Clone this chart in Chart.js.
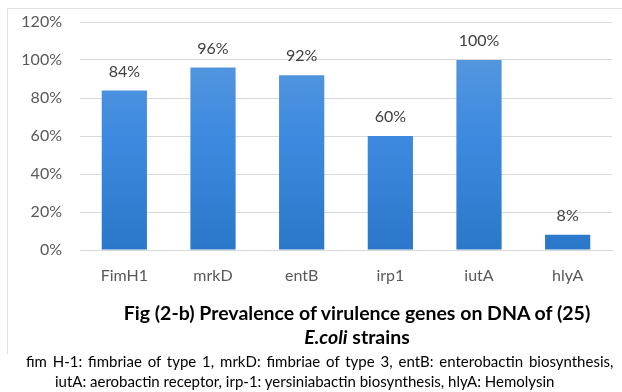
<!DOCTYPE html>
<html>
<head>
<meta charset="utf-8">
<script src="https://cdn.jsdelivr.net/npm/chart.js@4"></script>
<style>
  body { margin: 0; background: #fff; font-family: Lato, sans-serif; }
  #wrap { position: relative; width: 622px; height: 392px; overflow: hidden; }
  #box { position: absolute; left: 7px; top: 8px; width: 700px; height: 345px;
         border-top: 1px solid #e2e2e2; border-left: 1px solid #e2e2e2; }
  canvas { position: absolute; left: 0; top: 0; }
  .t { position: absolute; white-space: nowrap; color: #000; }
  .title { left: 0; width: 714px; text-align: center; font-weight: bold; font-size: 19.5px; line-height: 23px; }
  .note { font-size: 15px; line-height: 18px; }
</style>
</head>
<body>
<div id="wrap">
  <div id="box"></div>
  <canvas id="genes" width="622" height="392"></canvas>
  <div class="t title" style="top:301px">Fig (2-b) Prevalence of virulence genes on DNA of (25)</div>
  <div class="t title" style="top:325px"><i>E.coli</i> strains</div>
  <div class="t note" style="left:26px; top:352px; word-spacing:2px">fim H-1: fimbriae of type 1, mrkD: fimbriae of type 3, entB: enterobactin biosynthesis,</div>
  <div class="t note" style="left:55px; top:372px">iutA: aerobactin receptor, irp-1: yersiniabactin biosynthesis, hlyA: Hemolysin</div>
</div>
<script>
// genes and prevalence (%)
const genes = ["FimH1", "mrkD", "entB", "irp1", "iutA", "hlyA"];
const prevalence = [84, 96, 92, 60, 100, 8];
const yTicks = [0, 20, 40, 60, 80, 100, 120];

// labels above the bars
const valueLabels = {
  id: "valueLabels",
  afterDatasetsDraw(chart) {
    const ctx = chart.ctx;
    const meta = chart.getDatasetMeta(0);
    ctx.save();
    ctx.font = "16px Lato";
    ctx.fillStyle = "#404040";
    ctx.textAlign = "center";
    ctx.textBaseline = "middle";
    meta.data.forEach((bar, i) => {
      ctx.fillText(prevalence[i] + "%", bar.x, bar.y - 19);
    });
    ctx.restore();
  }
};

const ctxGenes = document.getElementById("genes");
new Chart(ctxGenes, {
  type: "bar",
  data: {
    labels: genes,
    datasets: [
      {
        data: prevalence,
        backgroundColor: (c) => {
          const area = c.chart.chartArea;
          if (!area) return "#3d8ae0";
          const g = c.chart.ctx.createLinearGradient(0, area.top, 0, area.bottom);
          g.addColorStop(0, "#5e9cdc");
          g.addColorStop(0.5, "#3d8ae0");
          g.addColorStop(1, "#2b77c9");
          return g;
        },
        categoryPercentage: 1,
        barPercentage: 0.51,
      },
    ],
  },
  options: {
    responsive: false,
    animation: false,
    layout: { padding: { top: 22, right: 10, bottom: 102, left: 0 } },
    plugins: { legend: { display: false }, tooltip: { enabled: false } },
    scales: {
      x: {
        grid: { display: false, drawTicks: false },
        border: { color: "#d9d9d9" },
        ticks: { color: "#595959", font: { family: "Lato", size: 16 }, padding: 16 },
        afterFit: (s) => { s.height = 40; },
      },
      y: {
        min: 0,
        max: 120,
        afterBuildTicks: (s) => { s.ticks = yTicks.map((v) => ({ value: v })); },
        grid: { color: "#d9d9d9", drawTicks: false },
        border: { display: false },
        ticks: {
          color: "#595959",
          font: { family: "Lato", size: 16 },
          padding: 18,
          callback: (v) => v + "%",
        },
        afterFit: (s) => { s.width = 80; s.paddingTop = 0; s.paddingBottom = 0; },
      },
    },
  },
  plugins: [valueLabels],
});
</script>
</body>
</html>
